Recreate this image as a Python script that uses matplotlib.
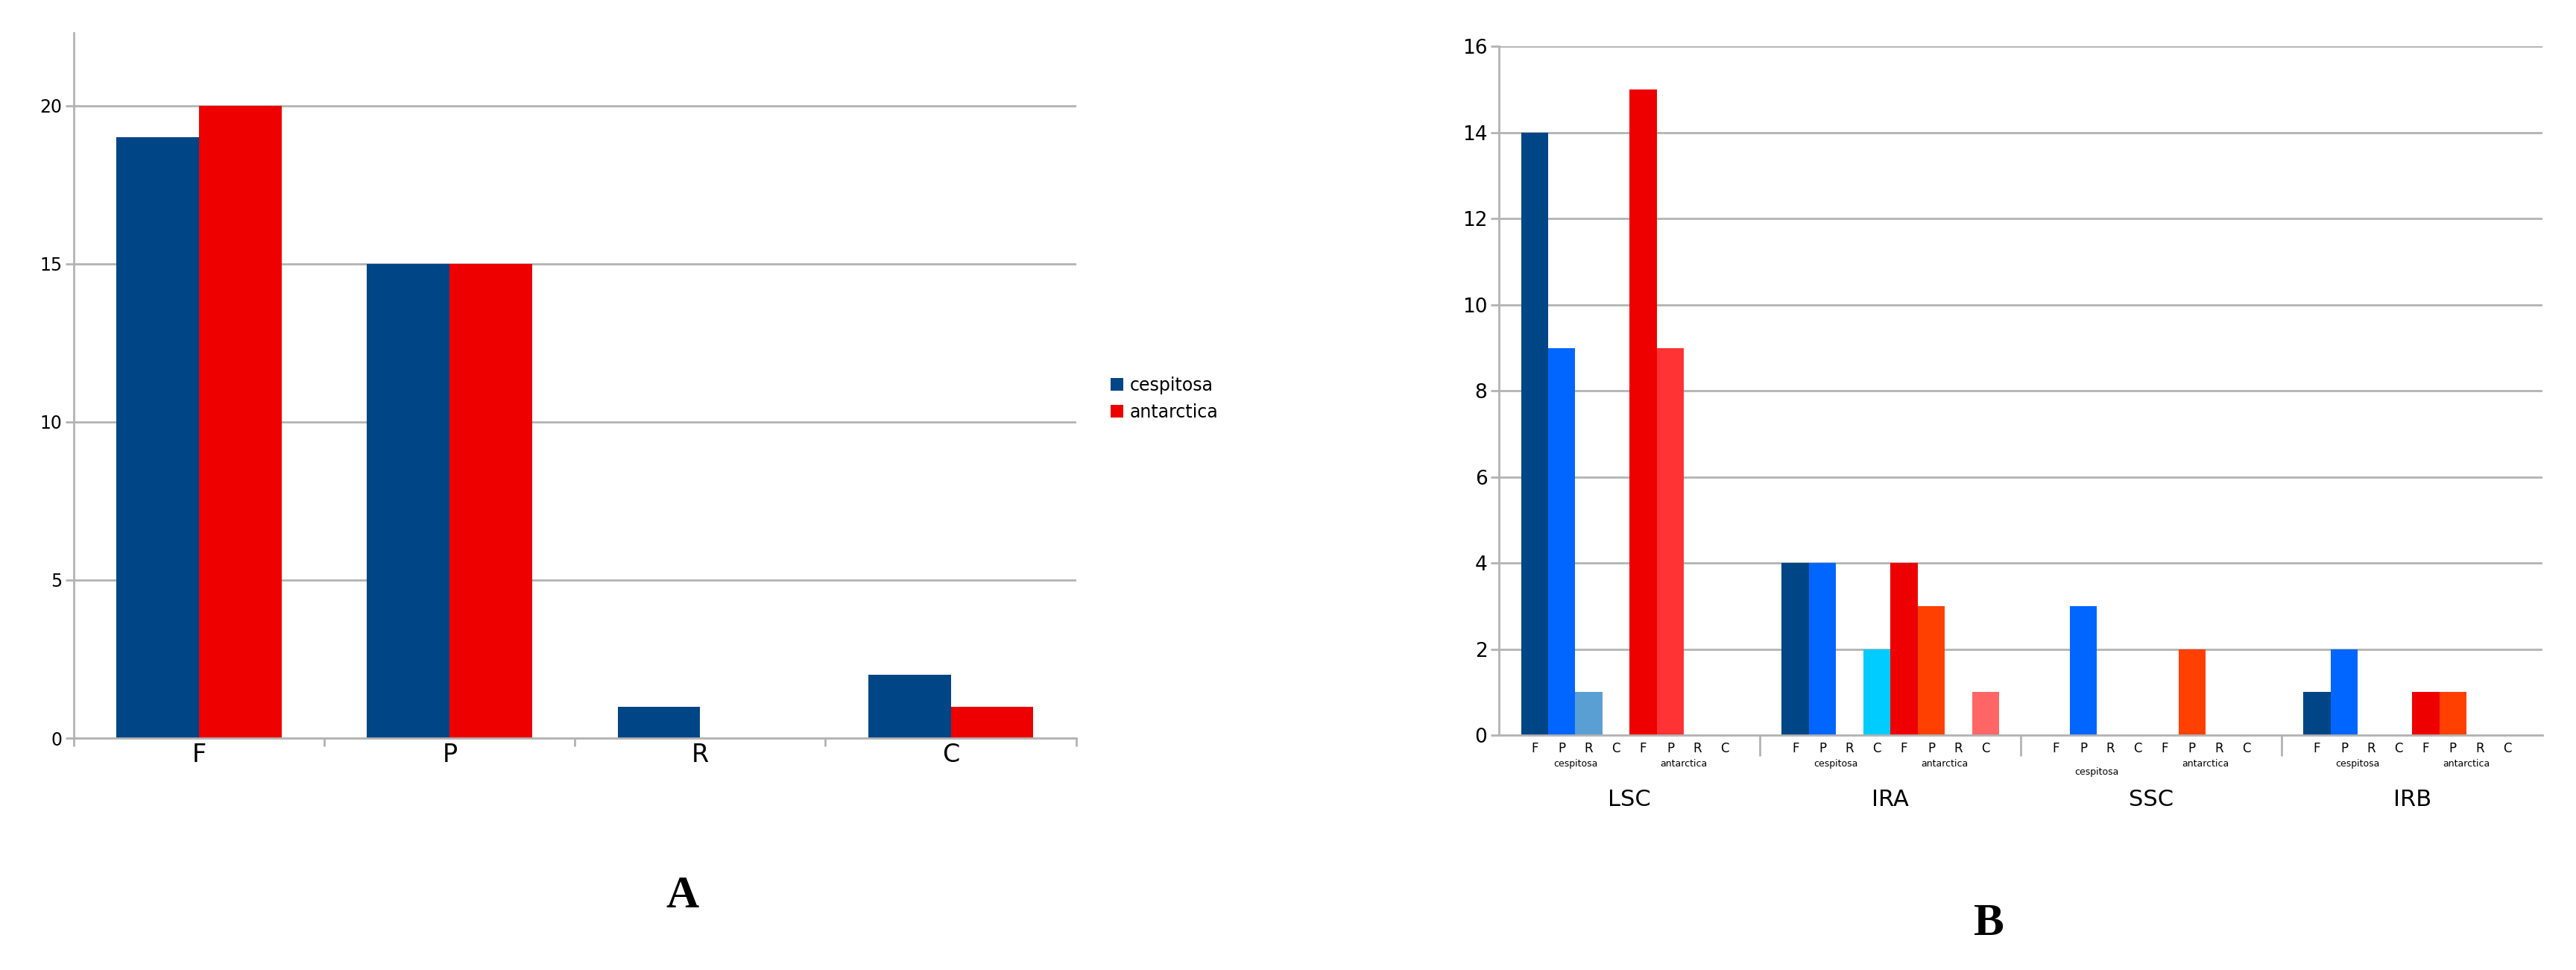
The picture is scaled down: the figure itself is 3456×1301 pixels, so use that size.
import matplotlib.pyplot as plt
import numpy as np

# Panel A data
traits = ["F", "P", "R", "C"]
a_cespitosa = [19, 15, 1, 2]
a_antarctica = [20, 15, 0, 1]

# Panel B data
sites = ["LSC", "IRA", "SSC", "IRB"]
b_cespitosa = [[14, 9, 1, 0], [4, 4, 0, 2], [0, 3, 0, 0], [1, 2, 0, 0]]
b_antarctica = [[15, 9, 0, 0], [4, 3, 0, 1], [0, 2, 0, 0], [1, 1, 0, 0]]

ces_colors = ["#004586", "#0066ff", "#5a9fd4", "#00ccff"]
ant_colors_lsc = ["#ee0000", "#ff3333", "#ff4000", "#ff6666"]
ant_colors = ["#ee0000", "#ff4000", "#ff4000", "#ff6666"]
grid_c = "#b3b3b3"

fig = plt.figure(figsize=(34.56, 13.01), dpi=100)
plt.rcParams['font.family'] = ['DejaVu Sans']

# ---- Panel A ----
ax = fig.add_axes([0.0287, 0.239, 0.389, 0.727])
x = np.arange(len(traits))
w = 0.33
ax.bar(x - w / 2, a_cespitosa, w, color="#004586", label="cespitosa")
ax.bar(x + w / 2, a_antarctica, w, color="#ee0000", label="antarctica")
ax.set_xlim(-0.5, 3.5)
ax.set_ylim(0, 22.3)
ax.set_yticks([0, 5, 10, 15, 20])
ax.yaxis.grid(True, color=grid_c, lw=2)
ax.set_axisbelow(True)
ax.set_xticks(x)
ax.set_xticklabels(traits, fontsize=24)
ax.set_xticks(np.arange(-0.5, 4, 1), minor=True)
ax.tick_params(axis="x", which="major", length=0, pad=4)
ax.tick_params(axis="x", which="minor", length=8, color=grid_c, width=2)
ax.tick_params(axis="y", labelsize=17, length=8, color=grid_c, width=2)
for s in ["top", "right"]:
    ax.spines[s].set_visible(False)
for s in ["left", "bottom"]:
    ax.spines[s].set_color(grid_c)
    ax.spines[s].set_linewidth(2)
fig.legend(loc="center left", bbox_to_anchor=(0.425, 0.589), frameon=False,
           fontsize=17, handlelength=0.7, handleheight=0.7, handletextpad=0.4,
           labelspacing=0.5)

# ---- Panel B ----
bx = fig.add_axes([0.582, 0.242, 0.405, 0.710])
gsp = 9.6
for g, site in enumerate(sites):
    base = g * gsp + 0.8
    ac = ant_colors_lsc if g == 0 else ant_colors
    for i in range(4):
        bx.bar(base + i + 0.5, b_cespitosa[g][i], 1.0, color=ces_colors[i])
        bx.bar(base + 4 + i + 0.5, b_antarctica[g][i], 1.0, color=ac[i])
    for i, t in enumerate(traits * 2):
        bx.text(base + i + 0.5, -0.15, t, ha="center", va="top", fontsize=12)
    ces_y = -0.75 if g == 2 else -0.55
    bx.text(base + 2, ces_y, "cespitosa", ha="center", va="top", fontsize=9)
    bx.text(base + 6, -0.55, "antarctica", ha="center", va="top", fontsize=9)
    bx.text(base + 4, -1.25, site, ha="center", va="top", fontsize=22)
bx.set_xlim(0, gsp * 4)
bx.set_ylim(0, 16)
bx.set_yticks(range(0, 17, 2))
bx.yaxis.grid(True, color=grid_c, lw=2)
bx.set_axisbelow(True)
bx.set_xticks([gsp * k for k in range(1, 4)])
bx.set_xticklabels([])
bx.tick_params(axis="x", length=20, color=grid_c, width=2)
bx.tick_params(axis="y", labelsize=19, length=8, color=grid_c, width=2)
for s in ["top", "right"]:
    bx.spines[s].set_visible(False)
for s in ["left", "bottom"]:
    bx.spines[s].set_color(grid_c)
    bx.spines[s].set_linewidth(2)

fig.text(0.265, 0.076, "A", fontsize=44, fontweight="bold",
         family="Liberation Serif", ha="center", va="center")
fig.text(0.772, 0.048, "B", fontsize=44, fontweight="bold",
         family="Liberation Serif", ha="center", va="center")

fig.savefig("out.png", dpi=100)
